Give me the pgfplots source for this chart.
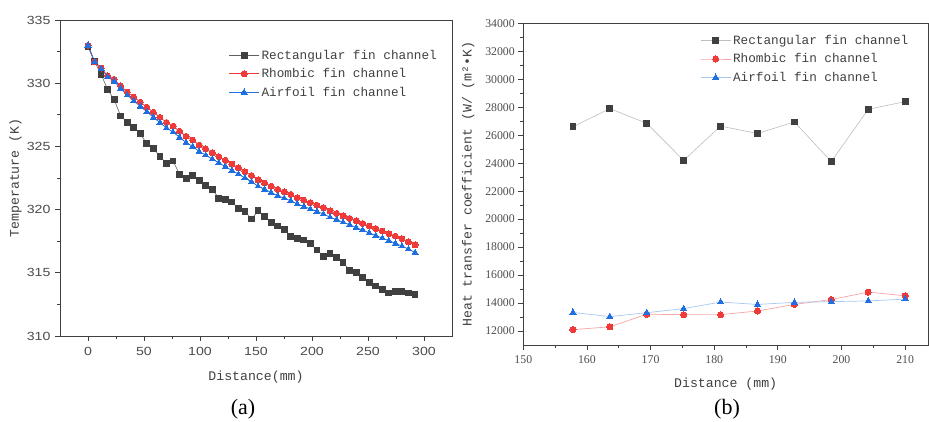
\documentclass[border=0pt]{standalone}
\usepackage{pgfplots}
\pgfplotsset{compat=1.18}
\usepackage{pgfplotstable}
\usepackage{fontspec}
\setmainfont{Liberation Serif}
\newfontfamily\sansfnt[FakeStretch=1.2]{Liberation Sans}
\newfontfamily\seriffnt{Liberation Serif}
\newfontfamily\monofnt{Liberation Mono}
\definecolor{rectc}{HTML}{404040}
\definecolor{rectl}{HTML}{606060}
\definecolor{rhomc}{HTML}{F03A3A}
\definecolor{airc}{HTML}{1F6FE0}
\definecolor{rectlb}{HTML}{BDBDBD}
\definecolor{rhomlb}{HTML}{F5A5A5}
\definecolor{airlb}{HTML}{A8C8F2}

\pgfplotstableread{
x y
0 332.9
5.84 331.7
11.68 330.7
17.52 329.5
23.36 328.7
29.2 327.4
35.04 326.9
40.88 326.5
46.72 326.0
52.56 325.2
58.4 324.85
64.24 324.2
70.08 323.65
75.92 323.85
81.76 322.8
87.6 322.45
93.44 322.7
99.28 322.3
105.12 321.9
110.96 321.6
116.8 320.9
122.64 320.8
128.48 320.6
134.32 320.1
140.16 319.85
146.0 319.25
151.84 319.9
157.68 319.45
163.52 319.0
169.36 318.7
175.2 318.45
181.04 317.9
186.88 317.7
192.72 317.6
198.56 317.3
204.4 316.8
210.24 316.3
216.08 316.5
221.92 316.2
227.76 315.8
233.6 315.2
239.44 315.0
245.28 314.6
251.12 314.25
256.96 313.95
262.8 313.7
268.64 313.4
274.48 313.5
280.32 313.5
286.16 313.4
292.0 313.3
}\rectT

\pgfplotstableread{
x y
0 333.0
5.84 331.7
11.68 331.2
17.52 330.6
23.36 330.3
29.2 329.8
35.04 329.3
40.88 328.9
46.72 328.5
52.56 328.1
58.4 327.7
64.24 327.3
70.08 326.9
75.92 326.6
81.76 326.2
87.6 325.8
93.44 325.5
99.28 325.1
105.12 324.8
110.96 324.5
116.8 324.2
122.64 323.9
128.48 323.6
134.32 323.3
140.16 323.0
146.0 322.7
151.84 322.35
157.68 322.1
163.52 321.85
169.36 321.6
175.2 321.4
181.04 321.2
186.88 320.95
192.72 320.75
198.56 320.55
204.4 320.35
210.24 320.15
216.08 319.9
221.92 319.7
227.76 319.5
233.6 319.3
239.44 319.1
245.28 318.9
251.12 318.7
256.96 318.5
262.8 318.3
268.64 318.1
274.48 317.9
280.32 317.7
286.16 317.45
292.0 317.2
}\rhomT

\pgfplotstableread{
x y
0 333.0
5.84 331.7
11.68 331.15
17.52 330.5
23.36 330.15
29.2 329.6
35.04 329.05
40.88 328.6
46.72 328.17
52.56 327.74
58.4 327.3
64.24 326.88
70.08 326.46
75.92 326.14
81.76 325.72
87.6 325.3
93.44 325.0
99.28 324.6
105.12 324.3
110.96 324.0
116.8 323.7
122.64 323.4
128.48 323.1
134.32 322.8
140.16 322.5
146.0 322.2
151.84 321.85
157.68 321.6
163.52 321.35
169.36 321.1
175.2 320.9
181.04 320.7
186.88 320.45
192.72 320.25
198.56 320.05
204.4 319.85
210.24 319.65
216.08 319.4
221.92 319.2
227.76 319.0
233.6 318.8
239.44 318.58
245.28 318.37
251.12 318.16
256.96 317.95
262.8 317.74
268.64 317.53
274.48 317.32
280.32 317.11
286.16 316.87
292.0 316.6
}\airT

\pgfplotstableread{
x rect rhom air
157.8 26600 12100 13330
163.6 27900 12300 13030
169.4 26850 13200 13310
175.2 24200 13170 13600
181.0 26650 13170 14070
186.8 26120 13430 13900
192.6 26950 13900 14050
198.4 24110 14250 14100
204.2 27850 14780 14150
210.0 28400 14520 14280
}\htcT

\pgfplotsset{
  common/.style={
    scale only axis,
    anchor=south west,
    axis line style={draw=black!75, line width=1pt},
    tick style={draw=black!75, line width=0.8pt},
    tick align=outside,
    tick pos=left,
    major tick length=5pt,
    minor tick length=3pt,
    minor x tick num=1,
    minor y tick num=1,
    label style={font=\monofnt\fontsize{13.2}{14}\selectfont, text=black!75},
    legend cell align=left,
    legend style={draw=none, fill=none, inner sep=0pt, row sep=3.8pt,
      font=\monofnt\fontsize{12.7}{13}\selectfont, text=black!75,
      /tikz/every even column/.append style={column sep=0pt}},
    legend image code/.code={
      \draw[mark repeat=2, mark phase=2] plot coordinates {(0pt,0pt) (15pt,0pt) (30pt,0pt)};
      \hspace*{7pt}
    },
  },
}

\begin{document}
\begin{tikzpicture}[x=1pt,y=1pt]
\useasboundingbox (0,0) rectangle (929,421);

\begin{axis}[common,
  at={(60pt,85pt)},
  width=392pt, height=316pt,
  xmin=-25, xmax=325, ymin=310, ymax=335,
  xtick={0,50,...,300},
  ytick={310,315,...,335},
  ticklabel style={font=\sansfnt\fontsize{11.8}{12}\selectfont, text=black!70},
  /pgf/number format/assume math mode=true,
  xticklabel style={yshift=-3pt},
  yticklabel style={xshift=-1pt},
  xlabel={Distance(mm)},
  ylabel={Temperature (K)},
  xlabel style={at={(axis description cs:0.5,-0.098)}, anchor=north},
  ylabel style={at={(axis description cs:-0.089,0.5)}, anchor=south},
  legend style={at={(0.43,0.912)}, anchor=north west},
]
\addplot[draw=rectl, line width=0.6pt, mark=square*, mark size=2.9pt,
  mark options={fill=rectc, draw=rectc, line width=0pt}] table[x=x,y=y] {\rectT};
\addlegendentry{Rectangular fin channel}
\addplot[draw=rhomc, line width=0.8pt, mark=*, mark size=3pt,
  mark options={fill=rhomc, draw=rhomc, line width=0pt}] table[x=x,y=y] {\rhomT};
\addlegendentry{Rhombic fin channel}
\addplot[draw=airc, line width=0.8pt, mark=triangle*, mark size=3.5pt,
  mark options={fill=airc, draw=airc, line width=0pt}] table[x=x,y=y] {\airT};
\addlegendentry{Airfoil fin channel}
\end{axis}

\begin{axis}[common,
  at={(523.3pt,76pt)},
  width=404.7pt, height=321.7pt,
  xmin=150, xmax=213.6, ymin=11000, ymax=34000,
  xtick={150,160,...,210},
  ytick={12000,14000,...,34000},
  scaled y ticks=false,
  ticklabel style={font=\seriffnt\fontsize{11.8}{12}\selectfont, text=black!70},
  /pgf/number format/assume math mode=true,
  yticklabel style={/pgf/number format/.cd, fixed, set thousands separator={}},
  xticklabel style={yshift=-2pt},
  xlabel={Distance (mm)},
  ylabel={Heat transfer coefficient (W/ (m²•K)},
  xlabel style={at={(axis description cs:0.5,-0.09)}, anchor=north},
  ylabel style={at={(axis description cs:-0.112,0.5)}, anchor=south},
  legend style={at={(0.437,0.97)}, anchor=north west},
]
\addplot[draw=rectlb, line width=0.6pt, mark=square*, mark size=2.9pt,
  mark options={fill=rectc, draw=rectc, line width=0pt}] table[x=x,y=rect] {\htcT};
\addlegendentry{Rectangular fin channel}
\addplot[draw=rhomlb, line width=0.7pt, mark=*, mark size=3.1pt,
  mark options={fill=rhomc, draw=rhomc, line width=0pt}] table[x=x,y=rhom] {\htcT};
\addlegendentry{Rhombic fin channel}
\addplot[draw=airlb, line width=0.7pt, mark=triangle*, mark size=3.6pt,
  mark options={fill=airc, draw=airc, line width=0pt}] table[x=x,y=air] {\htcT};
\addlegendentry{Airfoil fin channel}
\end{axis}

\node[font=\fontsize{22}{24}\selectfont, inner sep=0pt] at (243,12) {(a)};
\node[font=\fontsize{22}{24}\selectfont, inner sep=0pt] at (727,12) {(b)};
\end{tikzpicture}
\end{document}
